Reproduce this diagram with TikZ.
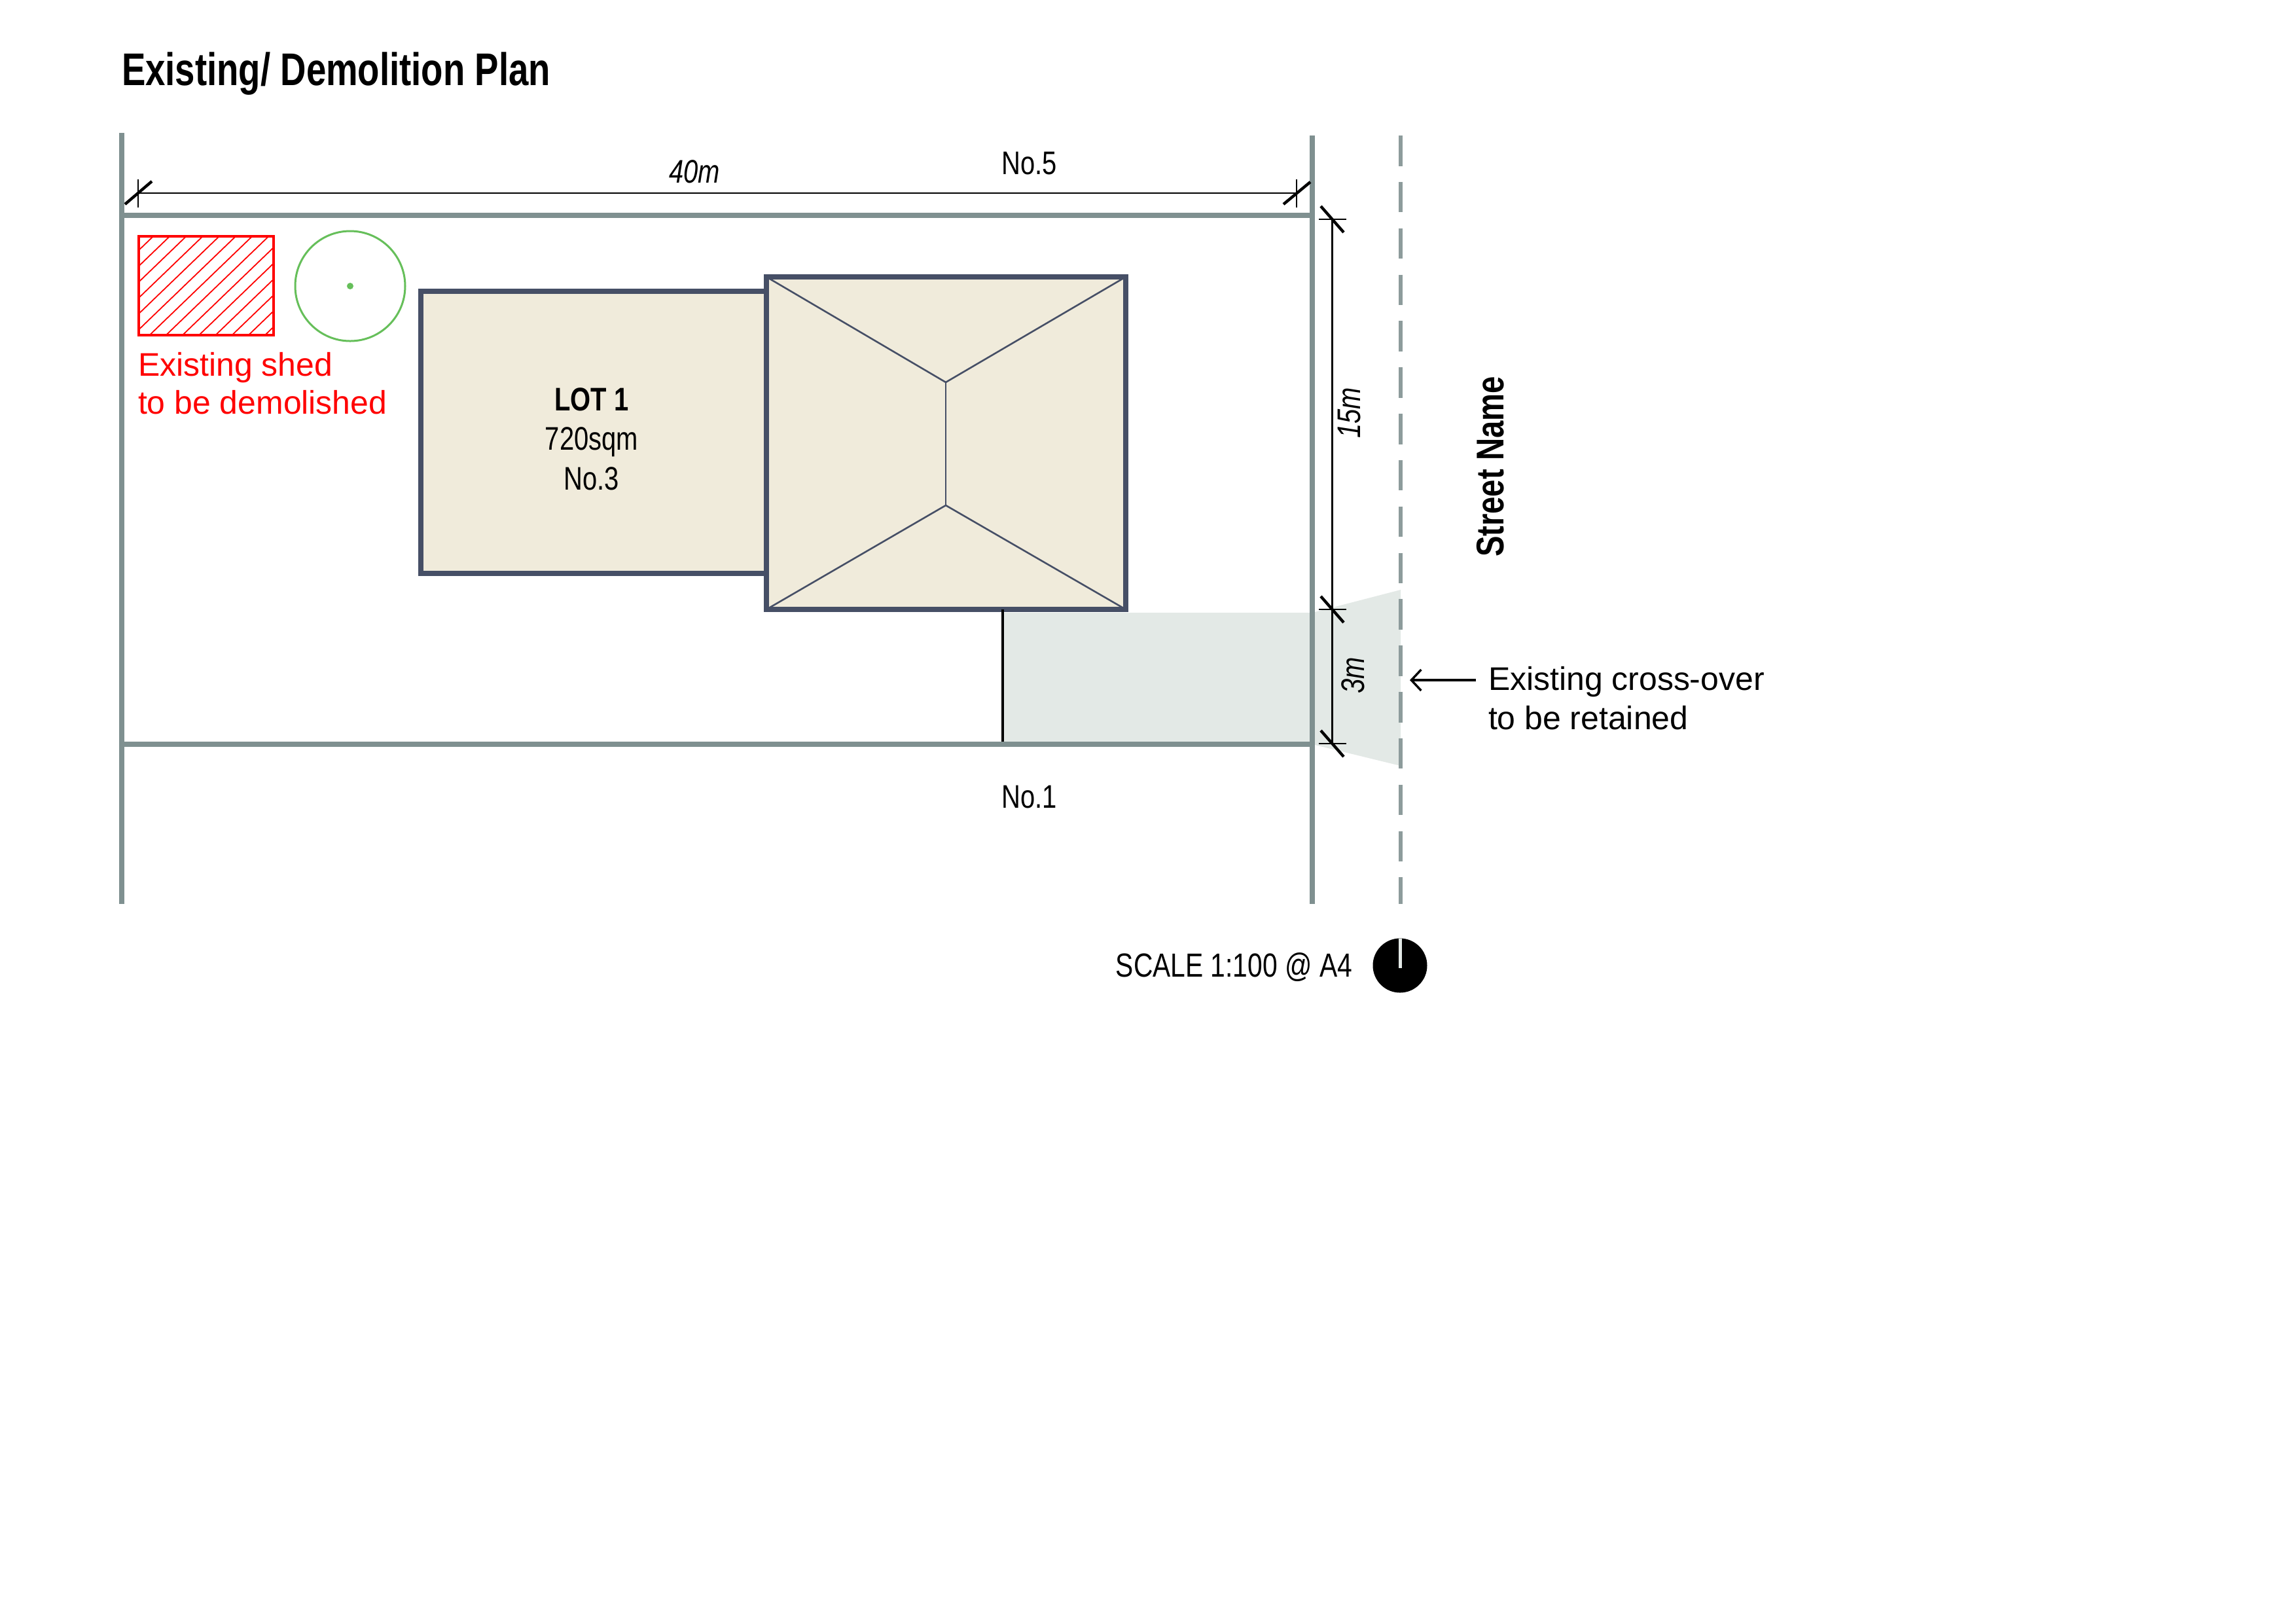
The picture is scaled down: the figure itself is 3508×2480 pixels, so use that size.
\documentclass[tikz,border=0pt]{standalone}
\usepackage{fontspec}
\setmainfont{Liberation Sans}
\newfontfamily\narrow[FakeStretch=0.80]{Liberation Sans}
\newfontfamily\narrowtitle[FakeStretch=0.78]{Liberation Sans}
\usetikzlibrary{arrows.meta}
\definecolor{wallc}{HTML}{7F9090}
\definecolor{dashc}{HTML}{8D9C9C}
\definecolor{housec}{HTML}{464F66}
\definecolor{creamc}{HTML}{F0EBDB}
\definecolor{drivec}{HTML}{E3E9E6}
\definecolor{treec}{HTML}{66BF5A}
\definecolor{shedc}{HTML}{FF0000}
\def\pxu{0.2845pt}
\tikzset{
  x=0.01cm,y=-0.01cm,
  every node/.style={inner sep=0,outer sep=0},
  wall/.style={draw=wallc,line width=8.6*\pxu},
  house/.style={draw=housec,fill=creamc,line width=8*\pxu,line join=miter},
  roof/.style={draw=housec,line width=2.6*\pxu},
  dimline/.style={draw=black,line width=2.2*\pxu},
  slash/.style={draw=black,line width=4.4*\pxu},
  titletext/.style={font=\narrowtitle\bfseries\fontsize{19.9}{24}\selectfont,anchor=base west},
  labeltext/.style={font=\narrow\fontsize{14.2}{17}\selectfont,anchor=base},
  dimtext/.style={font=\narrow\itshape\fontsize{14.2}{17}\selectfont,anchor=base},
  lottext/.style={font=\narrow\bfseries\fontsize{14.2}{17}\selectfont,anchor=base},
  notetext/.style={font=\fontsize{14.2}{17}\selectfont,anchor=base west},
}
\begin{document}
\begin{tikzpicture}
\useasboundingbox (0,0) rectangle (3508,2480);
% driveway
\fill[drivec] (1532,936) rectangle (2005,1137);
\fill[drivec] (2005,936) -- (2140,901) -- (2140,1170) -- (2005,1137) -- cycle;
% shed
\begin{scope}
  \clip (212,361) rectangle (418,512);
  \foreach \k in {0,...,15}{
    \draw[shedc,line width=1.8*\pxu] (211+\k*25.2-160,513) -- (211+\k*25.2,359);
  }
\end{scope}
\draw[shedc,line width=4*\pxu] (212,361) rectangle (418,512);
% tree
\draw[treec,line width=3*\pxu] (535,437) circle (84);
\fill[treec] (535,437) circle (5);
% house
\draw[house] (643,445) rectangle (1171,876);
\draw[house] (1171,423) rectangle (1720,931);
\coordinate (ra) at (1445,584);
\coordinate (rb) at (1445,772);
\draw[roof] (1171,423) -- (ra) -- (1720,423);
\draw[roof] (ra) -- (rb);
\draw[roof] (1171,931) -- (rb) -- (1720,931);
% driveway edge
\draw[black,line width=3.4*\pxu] (1532,931) -- (1532,1137);
% walls
\draw[wall] (186,203) -- (186,1381);
\draw[wall] (2005,207) -- (2005,1381);
\draw[wall] (186,329) -- (2005,329);
\draw[wall] (186,1137) -- (2005,1137);
\draw[draw=dashc,line width=5.4*\pxu,dash pattern=on 46.5*\pxu off 24.3*\pxu] (2140,207) -- (2140,1381);
% dimension 40m
\draw[dimline] (211,295) -- (1981,295);
\draw[dimline] (211,274) -- (211,317);
\draw[dimline] (1981,274) -- (1981,317);
\draw[slash] (191,312) -- (232,277);
\draw[slash] (1961,312) -- (2002,278);
% dimension 15m / 3m
\draw[dimline] (2035.5,335) -- (2035.5,1136);
\draw[dimline] (2015,335) -- (2057,335);
\draw[dimline] (2015,931) -- (2057,931);
\draw[dimline] (2015,1136) -- (2057,1136);
\draw[slash] (2018,315) -- (2053,355);
\draw[slash] (2018,911) -- (2053,951);
\draw[slash] (2018,1116) -- (2053,1156);
% labels
\node[titletext] (title) at (186,130) {Existing/ Demolition Plan};
\node[dimtext] (d40) at (1061,279) {40m};
\node[labeltext] (no5) at (1573,266) {No.5};
\node[lottext] (lot) at (904,627) {LOT 1};
\node[labeltext] (area) at (904,687) {720sqm};
\node[labeltext] (no3) at (904,748) {No.3};
\node[labeltext] (no1) at (1573,1234) {No.1};
\node[dimtext,rotate=90] (d15) at (2078,631) {15m};
\node[dimtext,rotate=90] (d3) at (2084,1032) {3m};
\node[lottext,rotate=90,font=\narrow\bfseries\fontsize{16.8}{20}\selectfont] (street) at (2297,713) {Street Name};
\node[notetext,text=shedc] (shed1) at (211,574) {Existing shed};
\node[notetext,text=shedc] (shed2) at (211,632) {to be demolished};
\node[notetext] (cross1) at (2274,1054) {Existing cross-over};
\node[notetext] (cross2) at (2274,1114) {to be retained};
\coordinate (arrowend) at (2154,1039);
\draw[black,line width=3.4*\pxu,-{Straight Barb[length=15*\pxu,width=32*\pxu,line width=3.4*\pxu]}] (cross1.west |- arrowend) ++(-19,0) -- (arrowend);
\node[labeltext,anchor=base east,font=\narrow\fontsize{14.5}{17}\selectfont] (scale) at (2066,1492) {SCALE 1:100 @ A4};
% north
\fill[black] (2139,1475) circle (41.5);
\draw[draw=drivec,line width=5*\pxu] (2139,1434) -- (2139,1479);
\end{tikzpicture}
\end{document}
